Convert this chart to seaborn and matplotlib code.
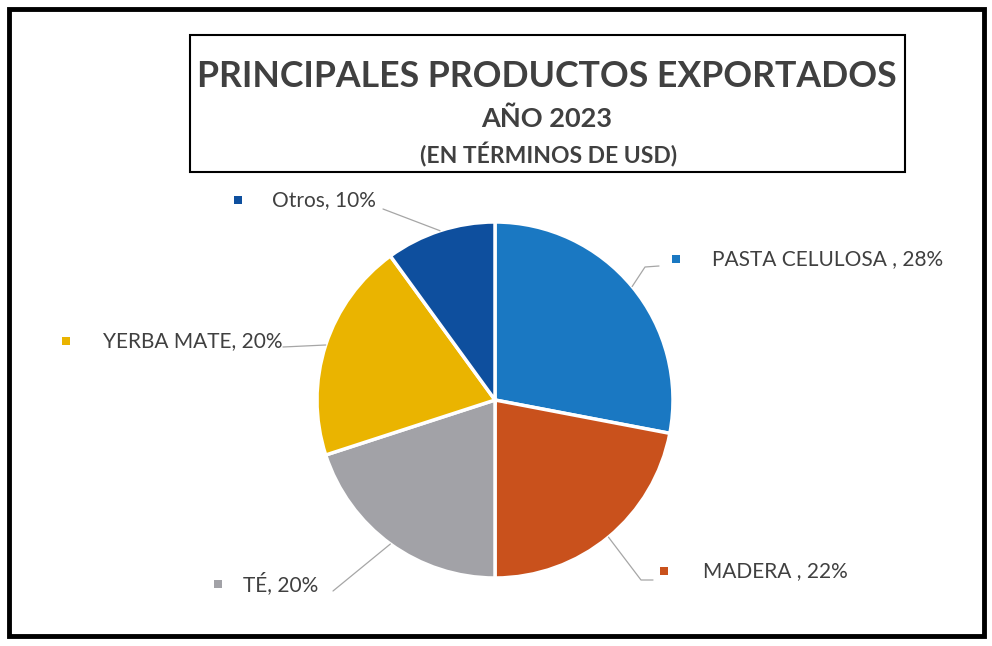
import matplotlib
matplotlib.use("Agg")
import numpy as np
import matplotlib.pyplot as plt
import matplotlib.patches as mpatches
import seaborn as sns

# Datos
productos = ["PASTA CELULOSA ", "MADERA ", "TÉ", "YERBA MATE", "Otros"]
porcentajes = [28, 22, 20, 20, 10]
colores = ["#1a78c2", "#c9511c", "#a2a2a7", "#eab400", "#0e4f9e"]

titulo = "PRINCIPALES PRODUCTOS EXPORTADOS"
subtitulo = "AÑO 2023"
nota = "(EN TÉRMINOS DE USD)"

sns.set_theme(style="white")
plt.rcParams["font.family"] = ["Lato", "DejaVu Sans"]

# Geometria en pixeles de la imagen
W, H = 992, 646
CX, CY, R = 495, 400, 178


def px(x, y):
    return ((x - CX) / R, (CY - y) / R)


fig = plt.figure(figsize=(W / 100, H / 100), dpi=100)
ax = fig.add_axes([0, 0, 1, 1])

wedges, _ = ax.pie(porcentajes, colors=colores, startangle=90, counterclock=False,
                   radius=1, center=(0, 0),
                   wedgeprops=dict(edgecolor="white", linewidth=2.5))
ax.set_xlim(-CX / R, (W - CX) / R)
ax.set_ylim((CY - H) / R, CY / R)
ax.set_aspect("equal")
ax.axis("off")

# Posicion de cada etiqueta: marcador, texto y codo de la linea guia
etiquetas = [
    dict(marca=(676, 259), texto=712, guia=[(645, 267), (659, 266)]),
    dict(marca=(664, 571), texto=703, guia=[(641, 580), (653, 580)]),
    dict(marca=(218, 584), texto=243, guia=[(333, 591)]),
    dict(marca=(66, 341), texto=103, guia=[(283, 347)]),
    dict(marca=(238, 200), texto=272, guia=[(383, 209)]),
]

for w, nombre, pct, col, et in zip(wedges, productos, porcentajes, colores, etiquetas):
    ang = np.deg2rad((w.theta1 + w.theta2) / 2)
    xs = [np.cos(ang)] + [px(*p)[0] for p in et["guia"]]
    ys = [np.sin(ang)] + [px(*p)[1] for p in et["guia"]]
    ax.plot(xs, ys, color="#a6a6a6", lw=0.9, zorder=1)
    mx, my = px(*et["marca"])
    ax.plot(mx, my, marker="s", ms=6, color=col, mew=0)
    tx, ty = px(et["texto"], et["marca"][1])
    ax.text(tx, ty, f"{nombre}, {pct}%", fontsize=15, color="#404040",
            ha="left", va="center")

# Caja del titulo
x0, y0 = px(190, 172)
x1, y1 = px(905, 35)
ax.add_patch(mpatches.Rectangle((x0, y0), x1 - x0, y1 - y0, fill=False,
                                edgecolor="black", lw=1.5))
ax.text(*px(547, 76), titulo, fontsize=25.7, fontweight="bold", color="#404040",
        ha="center", va="center")
ax.text(*px(547, 119), subtitulo, fontsize=19.5, fontweight="bold", color="#404040",
        ha="center", va="center")
ax.text(*px(549, 155), nota, fontsize=16.5, fontweight="bold", color="#404040",
        ha="center", va="center")

# Marco exterior
fig.add_artist(mpatches.Rectangle((9 / W, 1 - 636 / H), 975 / W, 627 / H,
                                  transform=fig.transFigure, fill=False,
                                  edgecolor="black", lw=3.5))

fig.savefig("out.png", dpi=100)
